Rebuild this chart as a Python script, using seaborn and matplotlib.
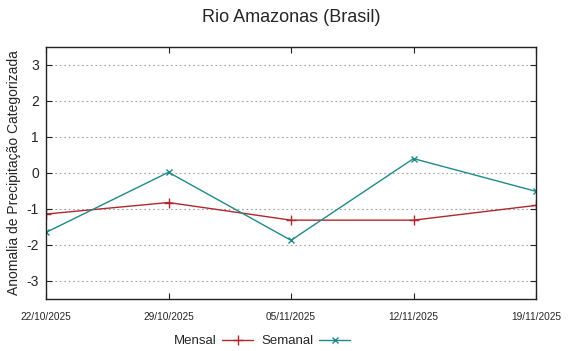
import matplotlib
matplotlib.use("Agg")
import matplotlib.pyplot as plt
import seaborn as sns
import pandas as pd

dates = ["22/10/2025", "29/10/2025", "05/11/2025", "12/11/2025", "19/11/2025"]
mensal = [-1.14, -0.82, -1.31, -1.31, -0.90]
semanal = [-1.65, 0.02, -1.87, 0.40, -0.51]
yticks = [-3, -2, -1, 0, 1, 2, 3]

sns.set_theme(style="white")
plt.rcParams["font.family"] = ["Liberation Sans", "DejaVu Sans"]

df = pd.DataFrame({"pos": range(len(dates)), "Mensal": mensal, "Semanal": semanal})

fig = plt.figure(figsize=(5.83, 3.51), dpi=100)
ax = fig.add_axes([46 / 583, 1 - 299 / 351, (536 - 46) / 583, (299 - 47) / 351])

red = "#b0282e"
teal = "#1f8a8a"
sns.lineplot(data=df, x="pos", y="Mensal", ax=ax, color=red, lw=1.0,
             marker="+", markersize=7, markeredgewidth=1.0,
             markeredgecolor=red, label="Mensal")
sns.lineplot(data=df, x="pos", y="Semanal", ax=ax, color=teal, lw=1.0,
             marker="x", markersize=5, markeredgewidth=1.0,
             markeredgecolor=teal, label="Semanal")

ax.set_xlim(0, len(dates) - 1)
ax.set_ylim(-3.5, 3.5)
ax.set_xticks(range(len(dates)))
ax.set_xticklabels(dates, fontsize=7.3)
ax.set_yticks(yticks)
ax.set_yticklabels([str(v) for v in yticks], fontsize=10)
ax.set_xlabel("")
ax.set_ylabel("Anomalia de Precipitação Categorizada", fontsize=10, labelpad=4)

for y in yticks:
    ax.axhline(y, color="#a0a0a0", lw=0.8, ls=(0, (1.5, 2.5)), zorder=0)

for s in ax.spines.values():
    s.set_visible(True)
    s.set_color("#222222")
    s.set_linewidth(1.0)

ax.tick_params(axis="both", which="both", direction="in", length=4, width=0.8,
               top=True, right=True, bottom=True, left=True, color="#222222")
ax.tick_params(axis="x", pad=9)
ax.tick_params(axis="y", pad=5)

fig.suptitle("Rio Amazonas (Brasil)", fontsize=13, y=1 - 18 / 351, va="center")

ax.get_legend().remove()
handles, labels = ax.get_legend_handles_labels()
fig.legend(handles, labels, loc="center", bbox_to_anchor=(262 / 583, 1 - 341 / 351),
           ncol=2, frameon=False, markerfirst=False, fontsize=9.5,
           handlelength=2.4, columnspacing=0.6, handletextpad=0.4)

fig.savefig("out.png", dpi=100)
